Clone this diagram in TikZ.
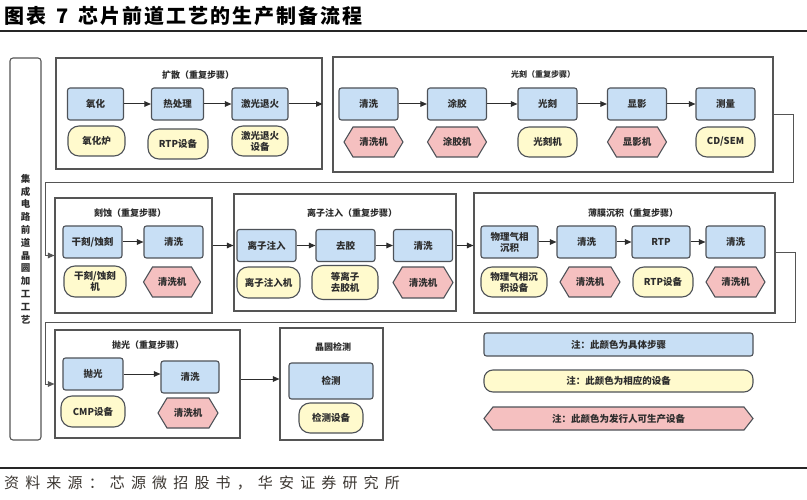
\documentclass[tikz,border=0pt]{standalone}
\usepackage{fontspec}
\setmainfont{Noto Sans CJK SC}
\newfontfamily\cjk{Noto Sans CJK SC}
\usetikzlibrary{arrows.meta,shapes.symbols}
\definecolor{bluefill}{RGB}{200,223,245}
\definecolor{yelfill}{RGB}{255,250,205}
\definecolor{pnkfill}{RGB}{245,192,192}
\definecolor{bord}{RGB}{78,82,88}
\definecolor{txt}{RGB}{45,45,45}
\definecolor{grpline}{RGB}{85,85,85}
\definecolor{srcgray}{RGB}{60,55,50}
\tikzset{
 nodefont/.style={font=\cjk\bfseries\fontsize{9.5}{11}\selectfont},
 base/.style={nodefont, text=txt, draw=bord, line width=1.1pt, align=center, inner sep=1pt},
 blu/.style={base, rectangle, rounded corners=2.5pt, fill=bluefill, minimum height=32pt},
 yel/.style={base, rectangle, rounded corners=11pt, fill=yelfill, minimum height=30pt},
 pnk/.style={base, signal, signal to=east and west, signal pointer angle=118, fill=pnkfill, minimum height=30pt},
 grp/.style={draw=grpline, line width=1.1pt, fill=white, rectangle, inner sep=0pt},
 gtitle/.style={font=\cjk\bfseries\fontsize{9}{11}\selectfont, text=txt, inner sep=0pt},
 arr/.style={draw=txt, line width=1pt, -{Triangle[length=6.5pt,width=5.5pt]}},
 conn/.style={draw=grpline, line width=1pt, -{Triangle[length=6.5pt,width=5.5pt]}},
}
\begin{document}
\begin{tikzpicture}[x=1pt,y=-1pt]
\useasboundingbox[fill=white] (0,0) rectangle (807,500);
% title
\node[anchor=west, inner sep=0pt, font=\cjk\bfseries\fontsize{20}{23}\selectfont\addfontfeature{LetterSpace=10}] (title) at (4,16) {图表\hspace{10pt}7\hspace{10pt}芯片前道工艺的生产制备流程};
\coordinate (tl1) at (0,31);
\coordinate (tl2) at (807,31);
\draw[line width=2pt, black!85] (tl1) -- (tl2);
% side column
\node[grp, rounded corners=3pt, minimum width=31pt, minimum height=382pt] (side) at (25.5,249) {};
\node[text=txt, align=center, inner sep=0pt, font=\cjk\bfseries\fontsize{9.5}{12.8}\selectfont] (sidet) at (side) {集\\成\\电\\路\\前\\道\\晶\\圆\\加\\工\\工\\艺};
% ---------- row 1: 扩散
\node[grp, minimum width=266pt, minimum height=111pt] (kuo) at (189,113.5) {};
\node[gtitle] (kuot) at (198,75) {扩散（重复步骤）};
\node[blu, minimum width=56pt] (a1) at (95.5,104) {氧化};
\node[blu, minimum width=52pt] (a2) at (177.5,104) {热处理};
\node[blu, minimum width=56pt] (a3) at (260,104) {激光退火};
\node[yel, minimum width=57pt] (e1) at (96.5,141) {氧化炉};
\node[yel, minimum width=60pt] (e2) at (178,144) {RTP设备};
\node[yel, minimum width=56pt] (e3) at (260,141) {激光退火\\设备};
\draw[arr] (a1) -- (a2);
\draw[arr] (a2) -- (a3);
\draw[arr] (a3.east) -- (a3.east -| kuo.east);
% ---------- row 1: 光刻
\node[grp, minimum width=440pt, minimum height=115pt] (guang) at (553,114.5) {};
\node[gtitle, font=\cjk\bfseries\fontsize{8}{10}\selectfont] (guangt) at (543,74) {光刻（重复步骤）};
\node[blu, minimum width=59pt] (b1) at (368.5,104) {清洗};
\node[blu, minimum width=59pt] (b2) at (457,104) {涂胶};
\node[blu, minimum width=59pt] (b3) at (547.5,104) {光刻};
\node[blu, minimum width=59pt] (b4) at (637,104) {显影};
\node[blu, minimum width=59pt] (b5) at (725.5,104) {测量};
\node[pnk, minimum width=59pt] (f1) at (373.5,142) {清洗机};
\node[pnk, minimum width=59pt] (f2) at (457,142) {涂胶机};
\node[yel, minimum width=59pt] (f3) at (547.5,142) {光刻机};
\node[pnk, minimum width=59pt] (f4) at (637,142) {显影机};
\node[yel, minimum width=59pt] (f5) at (725.5,142) {CD/SEM};
\draw[arr] (b1) -- (b2);
\draw[arr] (b2) -- (b3);
\draw[arr] (b3) -- (b4);
\draw[arr] (b4) -- (b5);
% connector 1
\coordinate (c1a) at (793,114.5);
\coordinate (c1b) at (793,183);
\coordinate (c1c) at (45,183);
% ---------- row 2: 刻蚀
\node[grp, minimum width=157pt, minimum height=115pt] (keshi) at (133.5,255.5) {};
\node[gtitle] (keshit) at (130,213) {刻蚀（重复步骤）};
\node[blu, minimum width=59pt] (k1) at (92.5,242) {干刻/蚀刻};
\node[blu, minimum width=59pt] (k2) at (173.5,242) {清洗};
\node[yel, minimum width=62pt, minimum height=31pt] (g1) at (95,281.5) {干刻/蚀刻\\机};
\node[pnk, minimum width=57pt] (g2) at (172,282) {清洗机};
\draw[arr] (k1) -- (k2);
\draw[conn] (guang.east) -- (c1a) -- (c1b) -- (c1c) |- (keshi.west);
% ---------- row 2: 离子注入
\node[grp, minimum width=222pt, minimum height=117pt] (lizi) at (345,252.5) {};
\node[gtitle] (lizit) at (352,213) {离子注入（重复步骤）};
\node[blu, minimum width=59pt] (l1) at (266.5,245.5) {离子注入};
\node[blu, minimum width=59pt] (l2) at (345.5,245.5) {去胶};
\node[blu, minimum width=59pt] (l3) at (423,245.5) {清洗};
\node[yel, minimum width=63pt, minimum height=31pt] (m1) at (268.5,282.5) {离子注入机};
\node[yel, minimum width=66pt, minimum height=34pt] (m2) at (345,282.5) {等离子\\去胶机};
\node[pnk, minimum width=60pt, minimum height=31pt] (m3) at (423,282.5) {清洗机};
\draw[arr] (l1) -- (l2);
\draw[arr] (l2) -- (l3);
\draw[arr] (keshi.east |- l1) -- (lizi.west |- l1);
% ---------- row 2: 薄膜沉积
\node[grp, minimum width=301pt, minimum height=120pt] (bomo) at (624.5,253) {};
\node[gtitle] (bomot) at (633,213) {薄膜沉积（重复步骤）};
\node[blu, minimum width=57pt] (p1) at (509.5,242) {物理气相\\沉积};
\node[blu, minimum width=59pt] (p2) at (586.5,242) {清洗};
\node[blu, minimum width=58pt] (p3) at (661,242) {RTP};
\node[blu, minimum width=59pt] (p4) at (735.5,242) {清洗};
\node[yel, minimum width=66pt] (q1) at (514,282) {物理气相沉\\积设备};
\node[pnk, minimum width=60pt] (q2) at (590,282) {清洗机};
\node[yel, minimum width=60pt] (q3) at (663,282) {RTP设备};
\node[pnk, minimum width=59pt] (q4) at (735.5,282) {清洗机};
\draw[arr] (p1) -- (p2);
\draw[arr] (p2) -- (p3);
\draw[arr] (p3) -- (p4);
\draw[arr] (lizi.east |- l3) -- (bomo.west |- l3);
% connector 2
\coordinate (c2a) at (795,253);
\coordinate (c2b) at (795,322);
\coordinate (c2c) at (45,322);
% ---------- row 3: 抛光
\node[grp, minimum width=185pt, minimum height=108pt] (pao) at (147.5,384) {};
\node[gtitle] (paot) at (148,345) {抛光（重复步骤）};
\node[blu, minimum width=60pt] (r1) at (93,374) {抛光};
\node[blu, minimum width=58pt] (r2) at (190,377) {清洗};
\node[yel, minimum width=64pt, minimum height=31pt] (s1) at (93,411.5) {CMP设备};
\node[pnk, minimum width=60pt] (s2) at (188,413) {清洗机};
\draw[arr] (r1.east) -- (r1.east -| r2.west);
\draw[conn] (bomo.east) -- (c2a) -- (c2b) -- (c2c) |- (pao.west);
% ---------- row 3: 晶圆检测
\node[grp, minimum width=103pt, minimum height=112pt] (jc) at (331.5,384) {};
\node[gtitle] (jct) at (333,347) {晶圆检测};
\node[blu, minimum width=84pt, minimum height=36pt] (t1) at (331,381) {检测};
\node[yel, minimum width=64pt] (u1) at (331,418) {检测设备};
\draw[arr] ([yshift=5pt]pao.east) -- ([yshift=5pt]pao.east -| jc.west);
% ---------- legend
\node[blu, minimum width=269pt, minimum height=23pt] (lg1) at (618.5,344.5) {注：此颜色为具体步骤};
\node[yel, minimum width=269pt, minimum height=22pt, rounded corners=9pt] (lg2) at (618.5,381) {注：此颜色为相应的设备};
\node[pnk, minimum width=269pt, minimum height=23pt, signal pointer angle=104] (lg3) at (618.5,418.5) {注：此颜色为发行人可生产设备};
% bottom
\coordinate (bl1) at (0,468);
\coordinate (bl2) at (807,468);
\draw[line width=2pt, black!85] (bl1) -- (bl2);
\node[anchor=west, inner sep=0pt, text=srcgray, font=\cjk\fontsize{15}{18}\selectfont\addfontfeature{LetterSpace=41}] (src) at (4,483) {资料来源：芯源微招股书，华安证券研究所};
\end{tikzpicture}
\end{document}
